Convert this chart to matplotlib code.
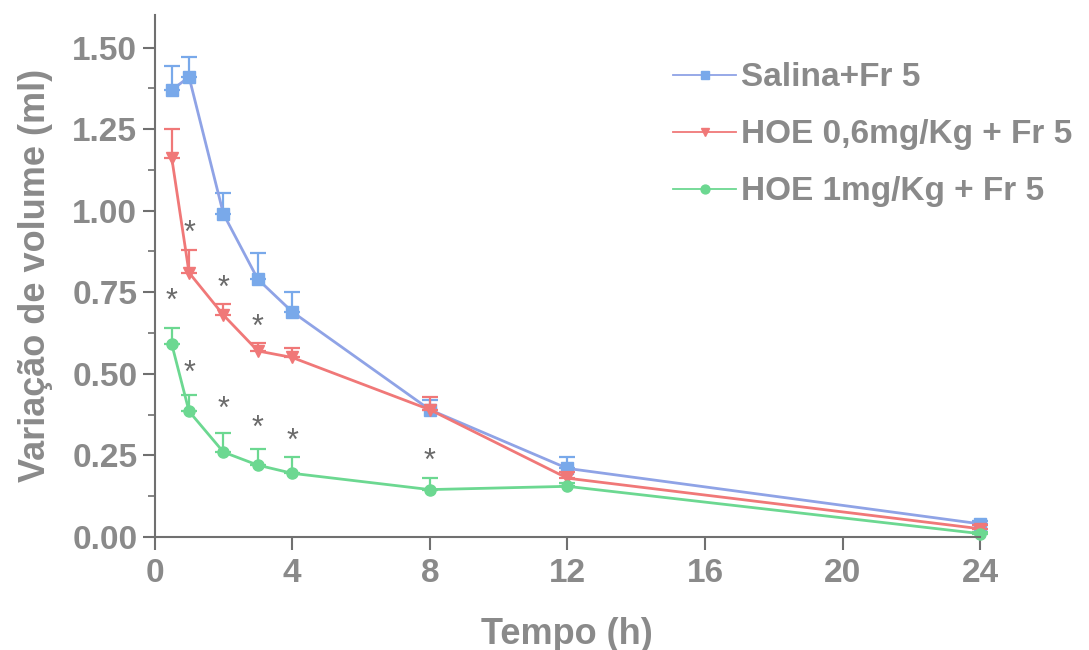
import matplotlib
matplotlib.use("Agg")
import matplotlib.pyplot as plt
import numpy as np

# time points (h)
tempo = [0.5, 1, 2, 3, 4, 8, 12, 24]

salina = [1.37, 1.41, 0.99, 0.79, 0.69, 0.39, 0.21, 0.04]
salina_err = [0.075, 0.06, 0.065, 0.08, 0.06, 0.03, 0.035, 0.01]

hoe06 = [1.16, 0.81, 0.68, 0.57, 0.55, 0.39, 0.18, 0.025]
hoe06_err = [0.09, 0.07, 0.035, 0.025, 0.03, 0.04, 0.02, 0.01]

hoe1 = [0.59, 0.385, 0.26, 0.22, 0.195, 0.145, 0.155, 0.01]
hoe1_err = [0.05, 0.05, 0.06, 0.05, 0.05, 0.035, 0.01, 0.005]

labels = ["Salina+Fr 5", "HOE 0,6mg/Kg + Fr 5", "HOE 1mg/Kg + Fr 5"]

# significance asterisks (x, y)
ast_x = [1, 2, 3, 0.5, 1, 2, 3, 4, 8]
ast_y = [0.93, 0.76, 0.64, 0.72, 0.50, 0.39, 0.33, 0.29, 0.23]

gray = "#8a8a8a"
plt.rcParams['font.family'] = ['Liberation Sans', 'DejaVu Sans']
plt.rcParams['font.weight'] = 'bold'

fig = plt.figure(figsize=(10.89, 6.5), dpi=100)
ax = fig.add_axes([0.142, 0.174, 0.758, 0.803])

series = [
    (salina, salina_err, "#8fa3e6", "#79a9ea", "s"),
    (hoe06, hoe06_err, "#f07878", "#f07878", "v"),
    (hoe1, hoe1_err, "#6cd891", "#6cd891", "o"),
]
handles = []
for (y, err, lc, mc, mk), lab in zip(series, labels):
    ax.errorbar(tempo, y, yerr=[np.zeros(len(err)), err], fmt="none",
                ecolor=mc, elinewidth=1.6, capsize=6, capthick=1.6, clip_on=False)
    h, = ax.plot(tempo, y, color=lc, lw=2, marker=mk, ms=8, mfc=mc, mec=mc,
                 label=lab, clip_on=False)
    handles.append(h)

for xa, ya in zip(ast_x, ast_y):
    ax.text(xa, ya, "*", color="#6a6a6a", fontsize=22, ha="center", va="center",
            fontweight="normal")

ax.set_xlim(0, 24)
ax.set_ylim(0, 1.6)
ax.set_xticks([0, 4, 8, 12, 16, 20, 24])
ax.set_yticks([0, 0.25, 0.5, 0.75, 1.0, 1.25, 1.5])
ax.set_yticklabels(["0.00", "0.25", "0.50", "0.75", "1.00", "1.25", "1.50"])
ax.set_yticks(np.arange(0.125, 1.6, 0.25), minor=True)

for s in ["top", "right"]:
    ax.spines[s].set_visible(False)
for s in ["left", "bottom"]:
    ax.spines[s].set_color("#707070")
    ax.spines[s].set_linewidth(1.5)

ax.tick_params(axis="both", which="major", length=9, width=1.5, color="#707070",
               labelsize=24, labelcolor=gray)
ax.tick_params(axis="y", which="minor", length=5, width=1.2, color="#707070")
ax.tick_params(axis="x", pad=6)

ax.set_xlabel("Tempo (h)", fontsize=26, color=gray, fontweight="bold", labelpad=20)
ax.set_ylabel("Variação de volume (ml)", fontsize=26, color=gray,
              fontweight="bold", labelpad=14)

leg = ax.legend(handles=handles, loc="upper left", bbox_to_anchor=(0.612, 0.935),
                frameon=False, fontsize=24, handlelength=1.9, handletextpad=0.15,
                labelspacing=0.78, markerscale=0.8, borderaxespad=0)
for t in leg.get_texts():
    t.set_color(gray)
for l in leg.get_lines():
    l.set_linewidth(1.3)

fig.savefig("out.png", dpi=100)
